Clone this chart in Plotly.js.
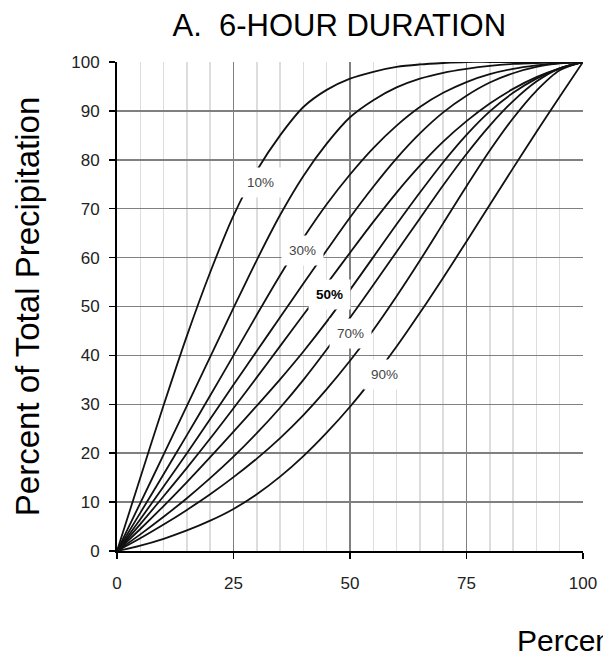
<!DOCTYPE html>
<html>
<head>
<meta charset="utf-8">
<script src="https://cdn.plot.ly/plotly-3.0.1.min.js"></script>
<style>
  html, body { margin: 0; padding: 0; background: #ffffff; }
  #chart { width: 603px; height: 660px; }
</style>
</head>
<body>
<div id="chart"></div>
<script>
// Percent of storm duration, sampled every 5 %
const duration = [0, 5, 10, 15, 20, 25, 30, 35, 40, 45, 50, 55, 60, 65, 70, 75, 80, 85, 90, 95, 100];

// Cumulative percent of total precipitation for each decile curve
const p10 = [0, 15, 29.8, 44, 57, 68.6, 77.8, 85, 90.8, 94.3, 96.6, 98, 99, 99.5, 99.8, 100, 100, 100, 100, 100, 100];
const p20 = [0, 9.8, 19.7, 29.7, 39.7, 49.7, 59.5, 68.7, 76.7, 83.3, 88.7, 92.2, 94.8, 96.6, 97.8, 98.6, 99.2, 99.6, 99.8, 99.9, 100];
const p30 = [0, 7.8, 15.7, 23.7, 31.8, 40, 48.3, 56.4, 64, 70.9, 77, 82.4, 87, 90.8, 93.7, 95.9, 97.5, 98.6, 99.3, 99.8, 100];
const p40 = [0, 6.5, 13.2, 20, 27, 34, 40.9, 47.8, 54.7, 61.5, 68.2, 74.5, 80.3, 85.4, 89.7, 93.1, 95.8, 97.7, 99, 99.7, 100];
const p50 = [0, 5.5, 11.2, 17, 23, 29.2, 35.5, 41.9, 48.3, 54.6, 61, 67.3, 73.3, 78.8, 83.7, 87.9, 91.5, 94.5, 96.9, 98.7, 100];
const p60 = [0, 4.5, 9.2, 14.1, 19.2, 24.4, 29.7, 35.1, 40.8, 46.9, 53.4, 60.1, 66.8, 73.3, 79.5, 85.1, 89.9, 93.7, 96.6, 98.7, 100];
const p70 = [0, 3.4, 7, 10.8, 14.9, 19.3, 24.1, 29.3, 35, 41.2, 47.7, 54.4, 61.2, 68, 74.8, 81.2, 87, 92, 96, 98.7, 100];
const p80 = [0, 2.6, 5.4, 8.4, 11.6, 15.1, 18.9, 23.1, 27.8, 33.1, 38.9, 45.2, 52.1, 59.4, 67, 74.6, 81.9, 88.5, 94.1, 98.3, 100];
const p90 = [0, 1.1, 2.5, 4.2, 6.2, 8.6, 11.6, 15.2, 19.4, 24.2, 29.5, 35.4, 41.8, 48.7, 55.9, 63.3, 70.8, 78.3, 85.7, 92.9, 100];

const curveNames = ['10%', '20%', '30%', '40%', '50%', '60%', '70%', '80%', '90%'];
const curves = [p10, p20, p30, p40, p50, p60, p70, p80, p90];

// Which curves carry an inline label, and where the label box sits (data units)
const labelledCurves = [0, 2, 4, 6, 8];
const labelSpots = [[30.7, 75.4], [39.8, 61.4], [45.5, 52.4], [50.2, 44.4], [57.5, 36.1]];

const FONT = 'Liberation Sans, Arial, Helvetica, sans-serif';

const traces = curves.map((vals, i) => ({
  type: 'scatter',
  mode: 'lines',
  name: curveNames[i],
  x: duration,
  y: vals,
  line: { color: '#111111', width: 1.8, shape: 'spline', smoothing: 0.9 },
  hoverinfo: 'skip'
}));

const labels = labelledCurves.map((ci, k) => ({
  xref: 'x', yref: 'y',
  x: labelSpots[k][0], y: labelSpots[k][1],
  text: ci === 4 ? '<b>' + curveNames[ci] + '</b>' : curveNames[ci],
  showarrow: false,
  bgcolor: '#ffffff',
  borderpad: 7,
  font: { family: FONT, size: 13.5, color: ci === 4 ? '#000000' : '#444444' }
}));

// Horizontal axis title, anchored at its left end
labels.push({
  xref: 'paper', yref: 'paper',
  x: 0.855, y: -0.184,
  xanchor: 'left', yanchor: 'middle',
  text: 'Percent of Duration',
  showarrow: false,
  font: { family: FONT, size: 30, color: '#000000' }
});

const axisCommon = {
  range: [0, 100],
  tick0: 0,
  showgrid: true,
  gridcolor: '#808080',
  gridwidth: 1.5,
  zeroline: false,
  showline: true,
  linecolor: '#000000',
  linewidth: 2,
  ticks: 'outside',
  ticklen: 6,
  tickwidth: 1.5,
  tickcolor: '#000000',
  tickfont: { family: FONT, size: 17, color: '#222222' },
  fixedrange: true
};

const layout = {
  width: 603,
  height: 660,
  margin: { l: 117, r: 20, t: 62, b: 109 },
  paper_bgcolor: '#ffffff',
  plot_bgcolor: '#ffffff',
  showlegend: false,
  title: {
    text: 'A.\u00a0 6-HOUR DURATION',
    font: { family: FONT, size: 31, color: '#000000' },
    xref: 'paper', x: 0.477, xanchor: 'center',
    yref: 'container', y: 0.962, yanchor: 'middle'
  },
  xaxis: Object.assign({}, axisCommon, {
    dtick: 25,
    ticklabelstandoff: 10,
    minor: { dtick: 5, tick0: 0, showgrid: true, gridcolor: '#dddddd', gridwidth: 1.5, ticks: '' }
  }),
  yaxis: Object.assign({}, axisCommon, {
    dtick: 10,
    ticklabelstandoff: 6,
    title: { text: 'Percent of Total Precipitation', font: { family: FONT, size: 33, color: '#000000' }, standoff: 22 }
  }),
  annotations: labels
};

Plotly.newPlot('chart', traces, layout, { staticPlot: true, displayModeBar: false });
</script>
</body>
</html>
